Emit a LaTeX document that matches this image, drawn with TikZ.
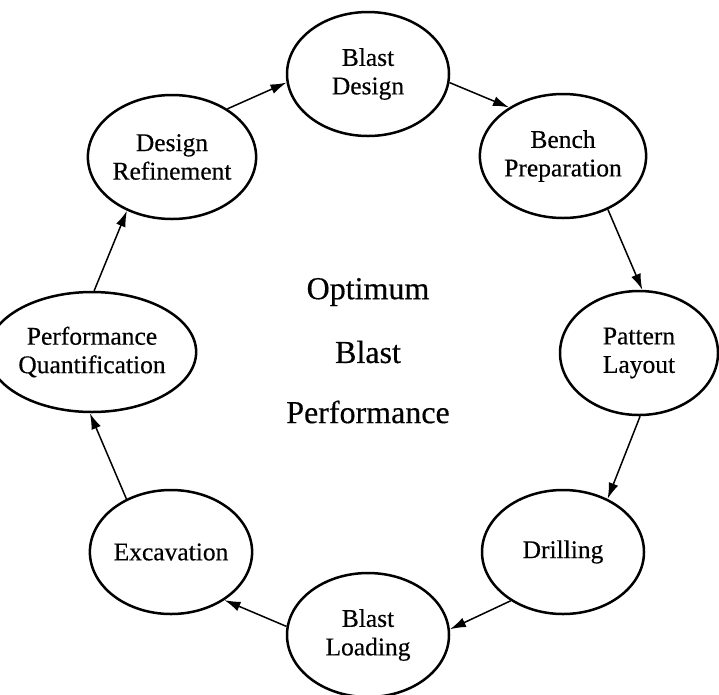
\documentclass[tikz,border=0pt]{standalone}
\usepackage{fontspec}
\setmainfont{Liberation Serif}[FakeBold=0.4]
\usetikzlibrary{shapes.geometric,arrows.meta}
\tikzset{
  stage/.style={ellipse,draw,line width=2.5pt,minimum width=162pt,minimum height=124pt,inner sep=0pt,align=center,
    font=\fontsize{25.5}{28.5}\selectfont},
  flow/.style={line width=1.5pt,-{Latex[length=16pt,width=10pt]}},
  centre/.style={font=\fontsize{32}{36}\selectfont}
}
\begin{document}
\begin{tikzpicture}[x=1pt,y=-1pt]
\useasboundingbox (0,0) rectangle (719,694);
\node[stage] (bd) at (368,74) {Blast\\Design};
\node[stage] (bp) at (563,156) {Bench\\Preparation};
\node[stage,minimum width=158pt] (pl) at (639,353) {Pattern\\Layout};
\node[stage] (dr) at (563,552) {Drilling};
\node[stage] (bl) at (368,635) {Blast\\Loading};
\node[stage] (ex) at (171,552) {Excavation};
\node[stage,minimum width=168pt,minimum height=120pt] (pq) at (92,352) {Performance\\Quantification};
\node[stage] (rf) at (172,157) {Design\\Refinement};
\node[centre] (t1) at (368,292) {Optimum};
\node[centre] (t2) at (368,352) {Blast};
\node[centre] (t3) at (368,412) {Performance};
\draw[flow] (rf.41) -- (bd.186);
\draw[flow] (bd.-6) -- (bp.138);
\draw[flow] (bp.-50) -- (pl.87);
\draw[flow] (pl.-89) -- (dr.50);
\draw[flow] (dr.223) -- (bl.4);
\draw[flow] (bl.174) -- (ex.-42);
\draw[flow] (ex.130) -- (pq.268);
\draw[flow] (pq.88) -- (rf.230);
\end{tikzpicture}
\end{document}
